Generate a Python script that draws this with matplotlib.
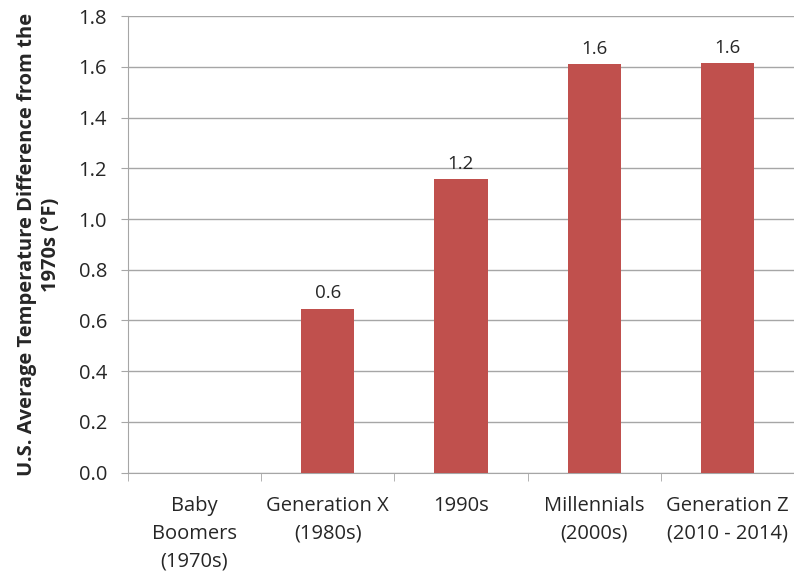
import numpy as np
import matplotlib
matplotlib.use('Agg')
import matplotlib.pyplot as plt

matplotlib.rcParams['font.family'] = ['Open Sans', 'DejaVu Sans']

## data
categories = ['Baby\nBoomers\n(1970s)', 'Generation X\n(1980s)', '1990s',
              'Millennials\n(2000s)', 'Generation Z\n(2010 - 2014)']
temp_diff = [0.0, 0.646, 1.158, 1.611, 1.615]
yticks = [0.0, 0.2, 0.4, 0.6, 0.8, 1.0, 1.2, 1.4, 1.6, 1.8]

bar_color = '#C0504D'
grid_color = '#A6A6A6'
text_color = '#262626'

fig = plt.figure(figsize=(7.94, 5.73), dpi=100)
ax = fig.add_axes([0.161, 0.175, 0.839, 0.797])

xpos = np.arange(len(categories))
ax.bar(xpos, temp_diff, width=0.4, color=bar_color, zorder=3)

# value labels (skip the zero baseline)
for x, v in zip(xpos, temp_diff):
    if v > 0:
        ax.text(x, v + 0.025, '%.1f' % v, ha='center', va='bottom',
                fontsize=13.5, color=text_color)

ax.set_xlim(-0.5, len(categories) - 0.5)
ax.set_ylim(0, 1.8)
ax.set_yticks(yticks)
ax.set_yticklabels(['%.1f' % t for t in yticks], fontsize=14.5,
                   color=text_color)
ax.yaxis.grid(True, color=grid_color, linewidth=1, zorder=0)

# category labels at centers, tick marks at boundaries
ax.set_xticks(xpos)
ax.set_xticklabels(categories, fontsize=14.5, color=text_color,
                   linespacing=1.5)
ax.tick_params(axis='x', which='major', length=0, pad=17)
ax.set_xticks(np.arange(len(categories) + 1) - 0.5, minor=True)
ax.tick_params(axis='x', which='minor', length=6, color=grid_color,
               direction='out')
ax.tick_params(axis='y', length=5, color=grid_color, pad=10)

for side in ['top', 'right']:
    ax.spines[side].set_visible(False)
for side in ['left', 'bottom']:
    ax.spines[side].set_color(grid_color)

ax.set_ylabel('U.S. Average Temperature Difference from the\n1970s (°F)',
              fontsize=14.5, fontweight='bold', color=text_color,
              linespacing=1.25, va='center')
ax.yaxis.set_label_coords(-0.133, 0.5)

fig.savefig('out.png', dpi=100)
plt.close('all')
